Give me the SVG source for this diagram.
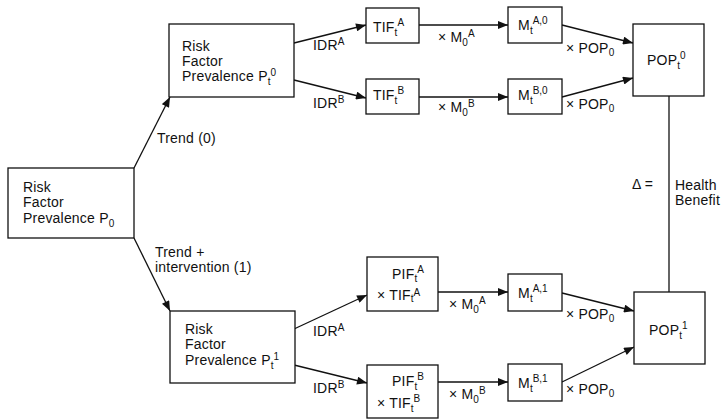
<svg xmlns="http://www.w3.org/2000/svg" width="726" height="420" viewBox="0 0 726 420">
<defs>
<style>
text{font-family:"Liberation Sans",Arial,sans-serif;font-size:14px;fill:#111;letter-spacing:0.2px}
.s{font-size:10px;letter-spacing:0}
rect{fill:#fff;stroke:#111;stroke-width:1.3}
.c line{stroke:#111;stroke-width:1.3}
.a{marker-end:url(#ah)}
</style>
<marker id="ah" viewBox="0 0 10 8" refX="10" refY="4" markerWidth="11" markerHeight="8" orient="auto" markerUnits="userSpaceOnUse"><path d="M0,0 L10,4 L0,8 z" fill="#111"/></marker>
</defs>
<rect x="0" y="0" width="726" height="420" style="stroke:none"/>

<g class="c" id="connectors">
<line class="a" x1="134" y1="168" x2="170" y2="97"/>
<line class="a" x1="134" y1="238" x2="170" y2="311"/>
<line class="a" x1="294" y1="43" x2="366" y2="25"/>
<line class="a" x1="294" y1="80" x2="366" y2="98"/>
<line class="a" x1="419" y1="25" x2="508" y2="25"/>
<line class="a" x1="419" y1="97" x2="508" y2="97"/>
<line class="a" x1="562" y1="25" x2="633" y2="43"/>
<line class="a" x1="562" y1="97" x2="633" y2="78"/>
<line x1="669" y1="96" x2="669" y2="292"/>
<line class="a" x1="294" y1="329" x2="367" y2="295"/>
<line class="a" x1="294" y1="365" x2="367" y2="383"/>
<line class="a" x1="438" y1="292" x2="508" y2="292"/>
<line class="a" x1="438" y1="382" x2="508" y2="382"/>
<line class="a" x1="562" y1="293" x2="634" y2="311"/>
<line class="a" x1="562" y1="382" x2="634" y2="347"/>
</g>

<g id="edge-labels">
<text x="157" y="143">Trend (0)</text>
<text x="155" y="257">Trend +</text>
<text x="155" y="272">intervention (1)</text>
<text x="313" y="50">IDR<tspan class="s" dy="-5">A</tspan></text>
<text x="313" y="108">IDR<tspan class="s" dy="-5">B</tspan></text>
<text x="313" y="336">IDR<tspan class="s" dy="-5">A</tspan></text>
<text x="313" y="393">IDR<tspan class="s" dy="-5">B</tspan></text>
<text x="438" y="42">× M<tspan class="s" dy="4">0</tspan><tspan class="s" dy="-9">A</tspan></text>
<text x="438" y="112">× M<tspan class="s" dy="4">0</tspan><tspan class="s" dy="-9">B</tspan></text>
<text x="449" y="309">× M<tspan class="s" dy="4">0</tspan><tspan class="s" dy="-9">A</tspan></text>
<text x="449" y="399">× M<tspan class="s" dy="4">0</tspan><tspan class="s" dy="-9">B</tspan></text>
<text x="566" y="53">× POP<tspan class="s" dy="3">0</tspan></text>
<text x="566" y="109">× POP<tspan class="s" dy="3">0</tspan></text>
<text x="566" y="319">× POP<tspan class="s" dy="3">0</tspan></text>
<text x="566" y="394">× POP<tspan class="s" dy="3">0</tspan></text>
<text x="632" y="189">Δ =</text>
<text x="675" y="190">Health</text>
<text x="675" y="205">Benefit</text>
</g>

<g id="rf0">
<rect x="8" y="168" width="126" height="70"/>
<text x="23" y="192">Risk</text>
<text x="23" y="207">Factor</text>
<text x="23" y="223">Prevalence P<tspan class="s" dy="4">0</tspan></text>
</g>

<g id="rft0">
<rect x="169" y="24" width="125" height="73"/>
<text x="182" y="51">Risk</text>
<text x="182" y="66">Factor</text>
<text x="182" y="81">Prevalence P<tspan class="s" dy="4">t</tspan><tspan class="s" dy="-9">0</tspan></text>
</g>

<g id="rft1">
<rect x="170" y="311" width="125" height="72"/>
<text x="185" y="334">Risk</text>
<text x="185" y="349">Factor</text>
<text x="185" y="365">Prevalence P<tspan class="s" dy="4">t</tspan><tspan class="s" dy="-9">1</tspan></text>
</g>

<g id="tifA">
<rect x="366" y="8" width="53" height="35"/>
<text x="373" y="32">TIF<tspan class="s" dy="4">t</tspan><tspan class="s" dy="-10">A</tspan></text>
</g>
<g id="tifB">
<rect x="366" y="79" width="53" height="35"/>
<text x="373" y="100">TIF<tspan class="s" dy="4">t</tspan><tspan class="s" dy="-10">B</tspan></text>
</g>

<g id="mA0">
<rect x="508" y="7" width="54" height="36"/>
<text x="518" y="30">M<tspan class="s" dy="4">t</tspan><tspan class="s" dy="-10">A,0</tspan></text>
</g>
<g id="mB0">
<rect x="508" y="79" width="54" height="35"/>
<text x="518" y="100">M<tspan class="s" dy="4">t</tspan><tspan class="s" dy="-10">B,0</tspan></text>
</g>

<g id="pop0">
<rect x="633" y="24" width="71" height="72"/>
<text x="647" y="65">POP<tspan class="s" dy="4">t</tspan><tspan class="s" dy="-10">0</tspan></text>
</g>

<g id="pifA">
<rect x="367" y="257" width="71" height="54"/>
<text x="392" y="279">PIF<tspan class="s" dy="3">t</tspan><tspan class="s" dy="-9">A</tspan></text>
<text x="377" y="300">× TIF<tspan class="s" dy="2">t</tspan><tspan class="s" dy="-6">A</tspan></text>
</g>
<g id="pifB">
<rect x="367" y="365" width="71" height="53"/>
<text x="392" y="386">PIF<tspan class="s" dy="4">t</tspan><tspan class="s" dy="-10">B</tspan></text>
<text x="377" y="408">× TIF<tspan class="s" dy="4">t</tspan><tspan class="s" dy="-10">B</tspan></text>
</g>

<g id="mA1">
<rect x="508" y="274" width="54" height="37"/>
<text x="518" y="298">M<tspan class="s" dy="4">t</tspan><tspan class="s" dy="-10">A,1</tspan></text>
</g>
<g id="mB1">
<rect x="508" y="364" width="54" height="37"/>
<text x="518" y="388">M<tspan class="s" dy="4">t</tspan><tspan class="s" dy="-10">B,1</tspan></text>
</g>

<g id="pop1">
<rect x="634" y="292" width="71" height="72"/>
<text x="649" y="335">POP<tspan class="s" dy="4">t</tspan><tspan class="s" dy="-10">1</tspan></text>
</g>
</svg>
